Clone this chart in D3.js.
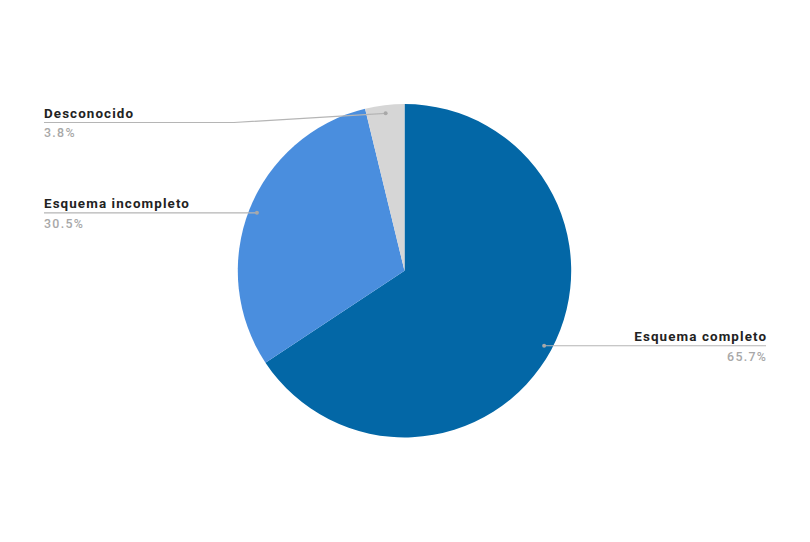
<!DOCTYPE html>
<html><head><meta charset="utf-8">
<script src="https://cdn.jsdelivr.net/npm/d3@7"></script>
<style>
html,body{margin:0;padding:0;background:#fff;}
svg{display:block;font-family:Roboto, "Noto Sans", Arial, sans-serif;}
</style></head>
<body>
<svg id="chart" width="810" height="542"></svg>
<script>
const categories = ["Esquema completo", "Esquema incompleto", "Desconocido"];
const values = [65.7, 30.5, 3.8];
const percentLabels = ["65.7%", "30.5%", "3.8%"];
const colors = ["#0367a6", "#4a8ede", "#d6d6d6"];

const W = 810, H = 542;
const cx = 404.5, cy = 270.7, R = 166.7;
const svg = d3.select("#chart");
const g = svg.append("g").attr("transform", `translate(${cx},${cy})`);

const data = categories.map((c, i) => ({name: c, value: values[i], pct: percentLabels[i], color: colors[i]}));
const pie = d3.pie().value(d => d.value).sort(null);
const arcs = pie(data);
const arc = d3.arc().innerRadius(0).outerRadius(R);
const dotArc = d3.arc().innerRadius(R * 0.951).outerRadius(R * 0.951);

g.selectAll("path.slice").data(arcs).enter().append("path")
  .attr("class", "slice")
  .attr("d", arc)
  .attr("fill", d => d.data.color);

const leftX = 44, rightX = 766, minLeftY = 122.5;
arcs.forEach(a => {
  const [dx, dy] = dotArc.centroid(a);
  const px = cx + dx, py = cy + dy;
  const right = px > cx;
  let lineY = right ? py : Math.max(py, minLeftY);
  const endX = right ? rightX : leftX;
  let pts;
  if (Math.abs(lineY - py) > 0.5) {
    const elbowX = leftX + 190;
    pts = [[px, py], [elbowX, lineY], [endX, lineY]];
  } else {
    pts = [[px, py], [endX, py]];
    lineY = py;
  }
  svg.append("path")
    .attr("d", d3.line()(pts))
    .attr("fill", "none")
    .attr("stroke", "#b5b5b5")
    .attr("stroke-width", 1.2);
  svg.append("circle").attr("cx", px).attr("cy", py).attr("r", 2).attr("fill", "#a8a8a8");
  const anchor = right ? "end" : "start";
  svg.append("text")
    .attr("x", endX + (right ? 1.1 : 0)).attr("y", lineY - 5)
    .attr("text-anchor", anchor)
    .attr("font-size", 13.4).attr("font-weight", "bold")
    .attr("letter-spacing", "1.1px")
    .attr("fill", "#222")
    .text(a.data.name);
  svg.append("text")
    .attr("x", endX + (right ? 1.3 : 0)).attr("y", lineY + 14.8)
    .attr("text-anchor", anchor)
    .attr("font-size", 12.4).attr("font-weight", 500)
    .attr("letter-spacing", "1.3px")
    .attr("fill", "#a8a8a8")
    .text(a.data.pct);
});
</script>
</body></html>
